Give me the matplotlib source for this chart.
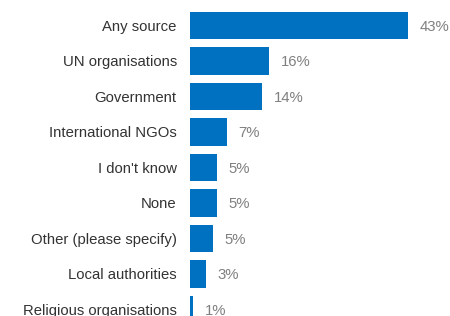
import matplotlib
matplotlib.use("Agg")
import matplotlib.pyplot as plt

categories = ["Any source", "UN organisations", "Government", "International NGOs",
              "I don't know", "None", "Other (please specify)", "Local authorities",
              "Religious organisations"]
values = [43, 15.6, 14.2, 7.3, 5.3, 5.3, 4.5, 3.2, 0.6]
value_labels = ["43%", "16%", "14%", "7%", "5%", "5%", "5%", "3%", "1%"]

plt.rcParams['font.family'] = ['Liberation Sans', 'DejaVu Sans']

fig = plt.figure(figsize=(4.5, 3.16), dpi=100)
ax = fig.add_axes([0, 0, 1, 1])
pos = list(range(len(categories)))
ax.barh(pos, values, height=0.77, color="#0070C0")
ax.set_xlim(-190 / 5.07, 260 / 5.07)
ax.set_ylim(8.183, -0.718)
for p, c, v, lab in zip(pos, categories, values, value_labels):
    ax.text(-2.6, p + 0.03, c, ha="right", va="center", fontsize=10.7, color="#333333")
    ax.text(v + 2.3, p + 0.03, lab, ha="left", va="center", fontsize=10.7, color="#808080")
ax.axis("off")
fig.savefig("out.png", dpi=100)
